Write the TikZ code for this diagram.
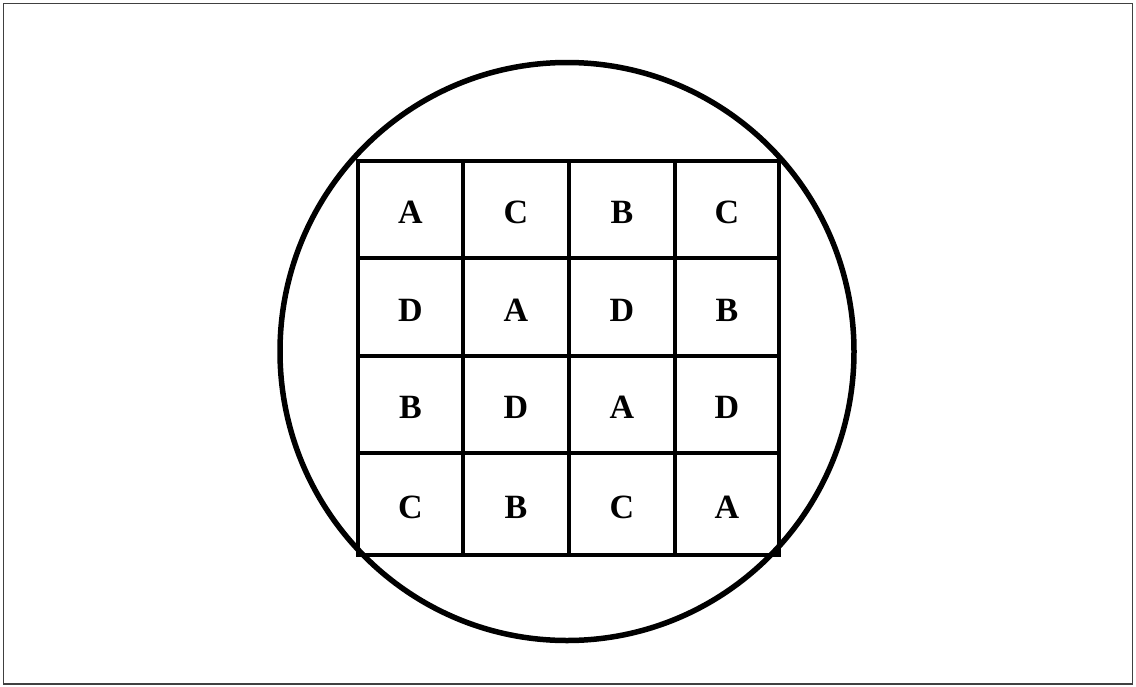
\documentclass[tikz,border=0pt]{standalone}
\usepackage{fontspec}
\setmainfont{Liberation Serif}
\begin{document}
\begin{tikzpicture}[x=1pt,y=-1pt,
  frameline/.style={draw=black!75,line width=1.2pt},
  gridline/.style={draw=black,line width=3.5pt,line cap=rect},
  ringline/.style={draw=black,line width=5.5pt},
  letter/.style={font=\fontsize{34}{34}\selectfont\bfseries,inner sep=0pt,anchor=center}]
\useasboundingbox (0,0) rectangle (1136,686);
\draw[frameline] (3.5,3.5) rectangle (1132.5,684);
% circle
\draw[ringline] (567,351.5) ellipse [x radius=287, y radius=289];
% grid
\draw[gridline] (358,161) rectangle (779,555);
\foreach \x in {463,569,675} \draw[gridline] (\x,161) -- (\x,555);
\foreach \y in {258,356,453} \draw[gridline] (358,\y) -- (779,\y);
% letters
\def\cx{{410.5,516,622,727}}
\def\cy{{212.5,310,407.5,507}}
\foreach \t [count=\i from 0] in {A,C,B,C,D,A,D,B,B,D,A,D,C,B,C,A}{
  \pgfmathtruncatemacro{\r}{int(\i/4)}
  \pgfmathtruncatemacro{\c}{mod(\i,4)}
  \pgfmathsetmacro{\px}{\cx[\c]}
  \pgfmathsetmacro{\py}{\cy[\r]}
  \node[letter] (cell\r\c) at (\px,\py) {\t};
}
\end{tikzpicture}
\end{document}
